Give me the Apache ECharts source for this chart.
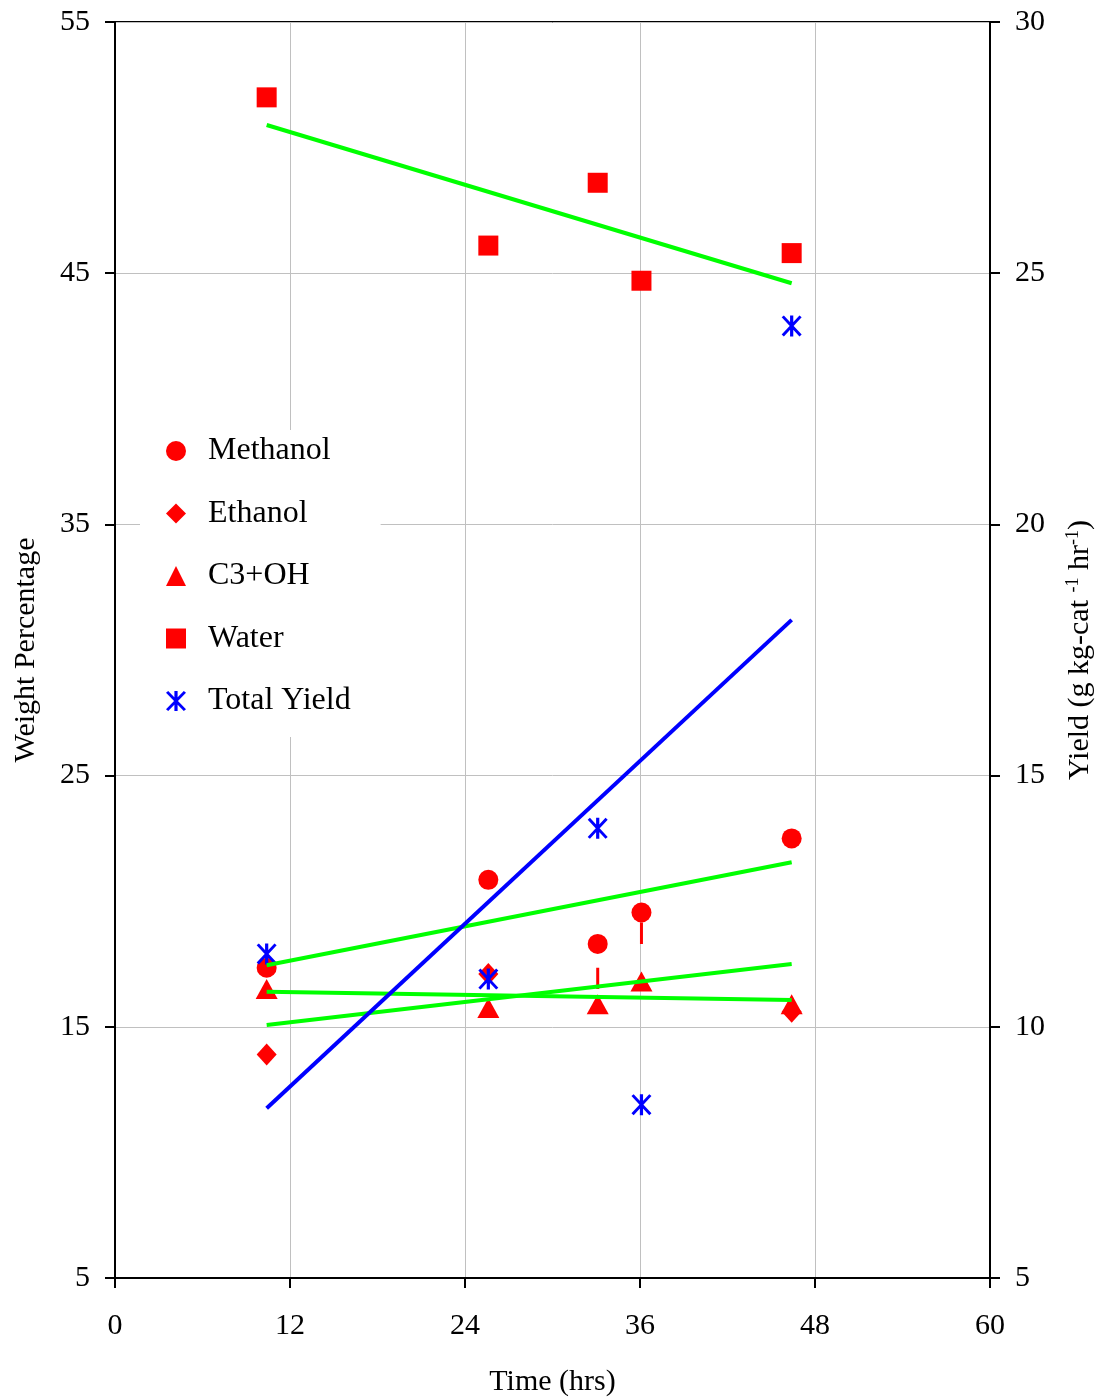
<!DOCTYPE html>
<html>
<head>
<meta charset="utf-8">
<script src="https://cdn.jsdelivr.net/npm/echarts@6/dist/echarts.min.js"></script>
<style>
html,body{margin:0;padding:0;background:#fff;}
#chart{width:1102px;height:1399px;}
</style>
</head>
<body>
<div id="chart"></div>
<script>
// ---- data ----
const times = [10.4, 25.6, 33.1, 36.1, 46.4];
const methanol = [17.35, 20.85, 18.3, 19.55, 22.5];
const ethanolTimes = [10.4, 25.6, 46.4];
const ethanol = [13.9, 17.1, 15.6];
const c3oh = [16.5, 15.75, 15.9, 16.8, 15.9];
const water = [52.0, 46.1, 48.6, 44.7, 45.8];
const totalYield = [11.45, 10.95, 13.95, 8.45, 23.95];
// red vertical error segments: [time, low, high]
const errorBars = [[33.1, 16.5, 17.35], [36.1, 18.3, 19.15]];
// trend line end points [time, value]
const waterTrend = [[10.4, 50.9], [46.4, 44.6]];
const methanolTrend = [[10.4, 17.45], [46.4, 21.55]];
const ethanolTrend = [[10.4, 15.07], [46.4, 17.5]];
const c3Trend = [[10.4, 16.4], [46.4, 16.07]];
const yieldTrend = [[10.4, 8.38], [46.4, 18.1]];

const legendNames = ['Methanol', 'Ethanol', 'C3+OH', 'Water', 'Total Yield'];
const FONT = 'Liberation Serif';
const RED = '#ff0000', BLUE = '#0000ff', GREEN = '#00ff00';
const asterisk = 'path://M8.4,0 L11.6,0 L11.6,20 L8.4,20 Z M0,1.8 L2.2,0 L20,18.2 L17.8,20 Z M2.2,20 L0,18.2 L17.8,0 L20,1.8 Z';

const pair = (xs, ys) => xs.map((x, i) => [x, ys[i]]);

const series = [
  {name: 'Methanol', type: 'scatter', data: pair(times, methanol), symbol: 'circle', symbolSize: 20, itemStyle: {color: RED, opacity: 1}, z: 3},
  {name: 'Ethanol', type: 'scatter', data: pair(ethanolTimes, ethanol), symbol: 'diamond', symbolSize: [20, 22], itemStyle: {color: RED, opacity: 1}, z: 3},
  {name: 'C3+OH', type: 'scatter', data: pair(times, c3oh), symbol: 'triangle', symbolSize: [22, 20], itemStyle: {color: RED, opacity: 1}, z: 3},
  {name: 'Water', type: 'scatter', data: pair(times, water), symbol: 'rect', symbolSize: 20, itemStyle: {color: RED, opacity: 1}, z: 3},
  {name: 'Total Yield', type: 'scatter', yAxisIndex: 1, data: pair(times, totalYield), symbol: asterisk, symbolSize: [20, 21], itemStyle: {color: BLUE, opacity: 1}, z: 4}
];
errorBars.forEach((e, i) => {
  series.push({name: 'err' + i, type: 'line', data: [[e[0], e[1]], [e[0], e[2]]], showSymbol: false, symbol: 'none',
    lineStyle: {color: RED, width: 3}, z: 3, silent: true});
});
[waterTrend, methanolTrend, ethanolTrend, c3Trend].forEach((t, i) => {
  series.push({name: 'trend' + i, type: 'line', data: t, symbol: 'none', lineStyle: {color: GREEN, width: 4}, z: 5, silent: true});
});
series.push({name: 'trendY', type: 'line', yAxisIndex: 1, data: yieldTrend, symbol: 'none', lineStyle: {color: BLUE, width: 4}, z: 5, silent: true});

const chart = echarts.init(document.getElementById('chart'), null, {renderer: 'canvas'});
const tickStyle = {show: true, length: 10, inside: false, lineStyle: {color: '#000', width: 2}};
const labelStyle = {fontFamily: FONT, fontSize: 30, color: '#000'};
chart.setOption({
  animation: false,
  backgroundColor: '#fff',
  grid: {left: 115, right: 112, top: 22, bottom: 121, containLabel: false, outerBoundsMode: 'none',
    show: true, borderColor: '#000', borderWidth: 2, backgroundColor: 'transparent'},
  legend: {
    data: legendNames,
    orient: 'vertical',
    left: 140, top: 430,
    backgroundColor: '#fff',
    padding: [5, 30, 20, 26],
    itemWidth: 20, itemHeight: 20, itemGap: 30.5,
    textStyle: {fontFamily: FONT, fontSize: 32, color: '#000', lineHeight: 30, padding: [0, 0, 0, 17]},
    z: 10
  },
  xAxis: {
    type: 'value', min: 0, max: 60, interval: 12,
    name: 'Time (hrs)', nameLocation: 'middle', nameGap: 89,
    nameTextStyle: {fontFamily: FONT, fontSize: 30, color: '#000'},
    axisLine: {show: true, onZero: false, lineStyle: {color: '#000', width: 2}},
    axisTick: tickStyle,
    axisLabel: Object.assign({margin: 33}, labelStyle),
    splitLine: {show: true, lineStyle: {color: '#c0c0c0', width: 1}}
  },
  yAxis: [
    {
      type: 'value', min: 5, max: 55, interval: 10, position: 'left',
      name: 'Weight Percentage', nameLocation: 'middle', nameGap: 74, nameRotate: 90,
      nameTextStyle: {fontFamily: FONT, fontSize: 30, color: '#000'},
      axisLine: {show: true, onZero: false, lineStyle: {color: '#000', width: 2}},
      axisTick: tickStyle,
      axisLabel: Object.assign({margin: 25}, labelStyle),
      splitLine: {show: true, lineStyle: {color: '#c0c0c0', width: 1}}
    },
    {
      type: 'value', min: 5, max: 30, interval: 5, position: 'right',
      name: 'Yield (g kg-cat {sup|-1} hr{sup|-1})', nameLocation: 'middle', nameGap: 74, nameRotate: 90,
      nameTextStyle: {fontFamily: FONT, fontSize: 30, color: '#000',
        rich: {sup: {fontFamily: FONT, fontSize: 18, color: '#000', verticalAlign: 'bottom', padding: [0, 0, 14, 0]}}},
      axisLine: {show: true, onZero: false, lineStyle: {color: '#000', width: 2}},
      axisTick: tickStyle,
      axisLabel: Object.assign({margin: 25}, labelStyle),
      splitLine: {show: false}
    }
  ],
  series: series
});
</script>
</body>
</html>
